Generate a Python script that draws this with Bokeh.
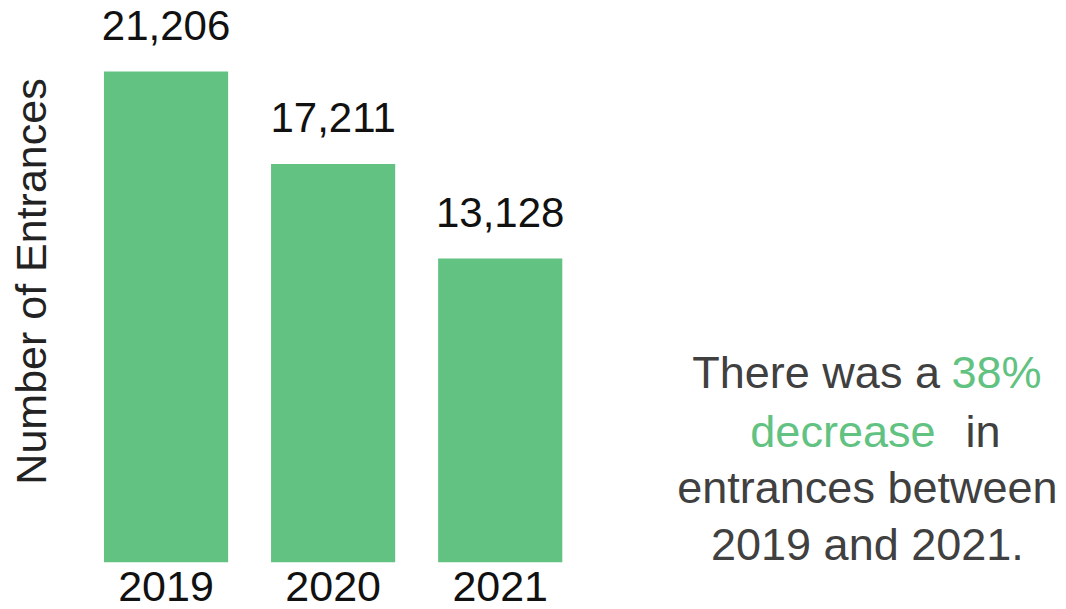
from bokeh.plotting import figure
from bokeh.models import Range1d, ColumnDataSource, FixedTicker
from bokeh.core.properties import value
from bokeh.embed import file_html
from bokeh.resources import INLINE

years = ["2019", "2020", "2021"]
entrances = [21206, 17211, 13128]
labels = [f"{v:,}" for v in entrances]
xpos = list(range(len(years)))

GREEN = "#61C281"
DARK = "#404040"
FONT = "Liberation Sans"

W, H = 1066, 609
FRAME_L, FRAME_B = 82.5, 562
PX_PER_CAT = 167.0
Y_MAX = 24272.0

x0 = -0.5
x1 = x0 + (W - FRAME_L) / PX_PER_CAT

def px_to_x(px):
    return x0 + (px - FRAME_L) / PX_PER_CAT

def py_to_y(py):
    return Y_MAX * (FRAME_B - py) / FRAME_B

src = ColumnDataSource(dict(x=xpos, n=entrances, lab=labels))

p = figure(x_range=Range1d(x0, x1), y_range=Range1d(0, Y_MAX),
           width=W, height=H, output_backend="svg", toolbar_location=None,
           min_border_left=82, min_border_right=0, min_border_top=0, min_border_bottom=H - FRAME_B)
p.title.visible = False
p.vbar(x="x", top="n", width=0.743, source=src, fill_color=GREEN, line_color=None)
p.text(x="x", y="n", text="lab", source=src, text_align="center", text_baseline="alphabetic",
       y_offset=-46, text_font=value(FONT), text_font_size="42px", text_color="#111111")

p.outline_line_color = None
p.grid.visible = False

p.xaxis.ticker = FixedTicker(ticks=xpos)
p.xaxis.major_label_overrides = {i: y for i, y in zip(xpos, years)}
p.xaxis.axis_line_color = None
p.xaxis.major_tick_line_color = None
p.xaxis.minor_tick_line_color = None
p.xaxis.major_tick_out = 0
p.xaxis.major_label_standoff = 9
p.xaxis.major_label_text_font = FONT
p.xaxis.major_label_text_font_size = "43px"
p.xaxis.major_label_text_color = "#111111"

p.yaxis.ticker = []
p.yaxis.axis_line_color = None
p.yaxis.axis_label = "Number of Entrances"
p.yaxis.axis_label_text_font = FONT
p.yaxis.axis_label_text_font_size = "43px"
p.yaxis.axis_label_text_font_style = "normal"
p.yaxis.axis_label_text_color = "#222222"
p.yaxis.axis_label_standoff = 28

# annotation text (mixed colours), positioned in pixel terms
fs = "45px"
parts = [
    ("There was a", 692, 388, DARK, "left"),
    ("38%", 951, 388, GREEN, "left"),
    ("decrease", 750, 447, GREEN, "left"),
    ("in", 965, 447, DARK, "left"),
    ("entrances between", 867, 503, DARK, "center"),
    ("2019 and 2021.", 867, 560, DARK, "center"),
]
for t, x, y, c, al in parts:
    p.text(x=[px_to_x(x)], y=[py_to_y(y)], text=[t], text_align=al, text_baseline="alphabetic",
           y_offset=-16, text_font=value(FONT), text_font_size=fs, text_color=c)

open("out.html", "w").write(file_html(p, INLINE))
